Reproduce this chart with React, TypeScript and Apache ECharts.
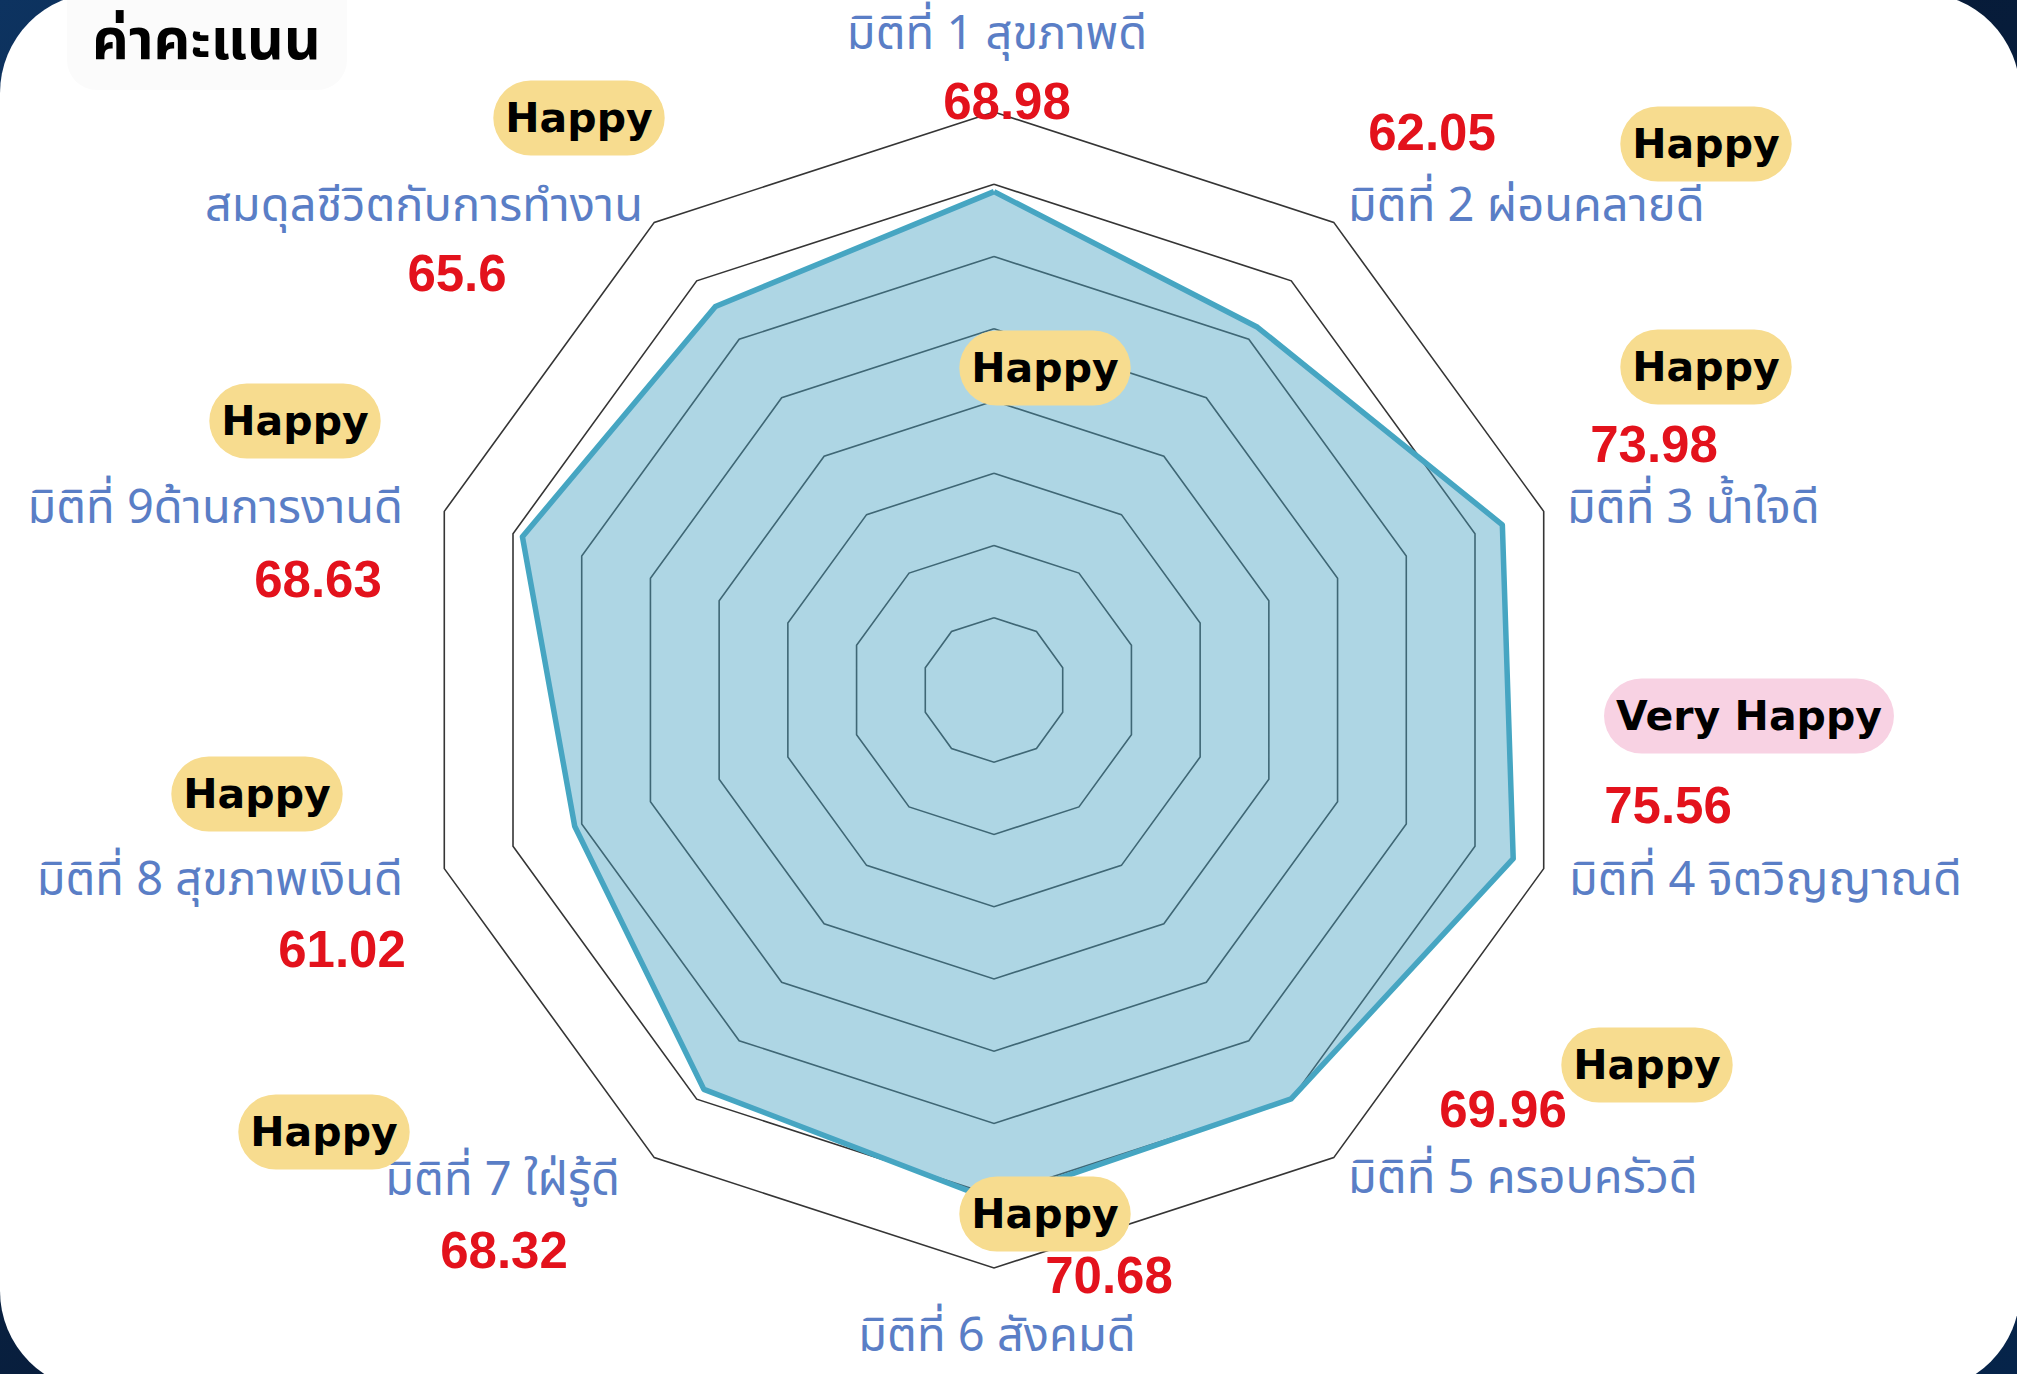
import React, { useEffect, useRef } from "react";
import * as echarts from "echarts";

// ---- data ----
const dimensionNames = [
  "มิติที่ 1 สุขภาพดี",
  "มิติที่ 2 ผ่อนคลายดี",
  "มิติที่ 3 น้ำใจดี",
  "มิติที่ 4 จิตวิญญาณดี",
  "มิติที่ 5 ครอบครัวดี",
  "มิติที่ 6 สังคมดี",
  "มิติที่ 7 ใฝ่รู้ดี",
  "มิติที่ 8 สุขภาพเงินดี",
  "มิติที่ 9ด้านการงานดี",
  "สมดุลชีวิตกับการทำงาน",
];
const scores = [68.98, 62.05, 73.98, 75.56, 69.96, 70.68, 68.32, 61.02, 68.63, 65.6];
const levels = ["Happy", "Happy", "Happy", "Very Happy", "Happy", "Happy", "Happy", "Happy", "Happy", "Happy"];
const scoreLabels = ["68.98", "62.05", "73.98", "75.56", "69.96", "70.68", "68.32", "61.02", "68.63", "65.6"];
const axisMin = 0;
const axisMax = 80;
const ringCount = 8;
const chartTitle = "ค่าคะแนน";

// ---- layout (annotation anchors, px) ----
const nameAnchors: [number, number, string][] = [
  [997, 34, "center"], [1348, 206, "left"], [1567, 508, "left"], [1569, 880, "left"], [1348, 1178, "left"],
  [997, 1336, "center"], [620, 1180, "right"], [403, 880, "right"], [403, 508, "right"], [643, 206, "right"],
];
const valueAnchors: [number, number][] = [
  [1007, 101], [1432, 132], [1654, 444], [1668, 805], [1503, 1109],
  [1109, 1275], [504, 1250], [342, 949], [318, 579], [457, 273],
];
const pillAnchors: [number, number][] = [
  [1045, 368], [1706, 144], [1706, 367], [1749, 716], [1647, 1065],
  [1045, 1214], [324, 1132], [257, 794], [295, 421], [579, 118],
];

const W = 2017;
const H = 1374;
const THAI = "'Noto Sans Thai', 'Noto Sans', 'DejaVu Sans', sans-serif";

export default function App() {
  const ref = useRef<HTMLDivElement>(null);
  useEffect(() => {
    if (!ref.current) return;
    const chart = echarts.init(ref.current, null, { renderer: "svg" });
    // radar goes counter-clockwise; reorder so the dimensions run clockwise
    const order = [0, 9, 8, 7, 6, 5, 4, 3, 2, 1];
    const graphics: any[] = [
      {
        type: "rect",
        shape: { x: 67, y: -30, width: 280, height: 120, r: 30 },
        style: { fill: "#fbfbfb" },
        z: 1,
      },
      {
        type: "text",
        x: 92,
        y: 42,
        z: 10,
        style: {
          text: chartTitle,
          fill: "#000",
          font: `bold 57px ${THAI}`,
          align: "left",
          verticalAlign: "middle",
          lineHeight: 60,
        },
      },
    ];
    dimensionNames.forEach((n, i) => {
      const [x, y, a] = nameAnchors[i];
      graphics.push({
        type: "text",
        x,
        y,
        z: 10,
        style: {
          text: n,
          fill: "#5a7ec6",
          font: `normal 47px ${THAI}`,
          align: a,
          verticalAlign: "middle",
          lineHeight: 44,
        },
      });
      const [vx, vy] = valueAnchors[i];
      graphics.push({
        type: "text",
        x: vx,
        y: vy,
        z: 10,
        style: {
          text: scoreLabels[i],
          fill: "#e3121c",
          font: `bold 51px 'Liberation Sans', Arial, sans-serif`,
          align: "center",
          verticalAlign: "middle",
          lineHeight: 40,
        },
      });
      const [px, py] = pillAnchors[i];
      const very = levels[i] === "Very Happy";
      graphics.push({
        type: "text",
        x: px,
        y: py,
        z: 10,
        style: {
          text: levels[i],
          fill: "#000",
          font: `bold 41px 'DejaVu Sans', sans-serif`,
          align: "center",
          verticalAlign: "middle",
          backgroundColor: very ? "#f8d2e3" : "#f7dc8f",
          padding: [18, 12, 16, 12],
          borderRadius: 39,
        },
      });
    });

    chart.setOption({
      animation: false,
      radar: {
        center: [994, 690],
        radius: 578,
        startAngle: 90,
        shape: "polygon",
        splitNumber: ringCount,
        indicator: order.map((i) => ({ name: dimensionNames[i], min: axisMin, max: axisMax })),
        axisName: { show: false },
        splitLine: { lineStyle: { color: "#353535", width: 1.6 } },
        splitArea: { show: false },
        axisLine: { show: false },
        axisTick: { show: false },
        axisLabel: { show: false },
      },
      series: [
        {
          type: "radar",
          symbol: "none",
          lineStyle: { color: "#45a6c2", width: 5.5 },
          areaStyle: { color: "#4ba3c3", opacity: 0.45 },
          data: [{ value: order.map((i) => scores[i]), name: "ค่าคะแนน" }],
        },
      ],
      graphic: graphics,
    });
    return () => chart.dispose();
  }, []);

  return (
    <div
      style={{
        position: "fixed",
        left: 0,
        top: 0,
        width: W,
        height: H,
        overflow: "hidden",
        background: "linear-gradient(135deg, #0d3360 0%, #071a36 50%, #06244a 100%)",
      }}
    >
      <div
        style={{
          position: "absolute",
          left: 0,
          top: -7,
          width: 2020,
          height: 1398,
          borderRadius: 100,
          background: "#ffffff",
        }}
      />
      <div ref={ref} style={{ position: "absolute", left: 0, top: 0, width: W, height: H }} />
    </div>
  );
}
